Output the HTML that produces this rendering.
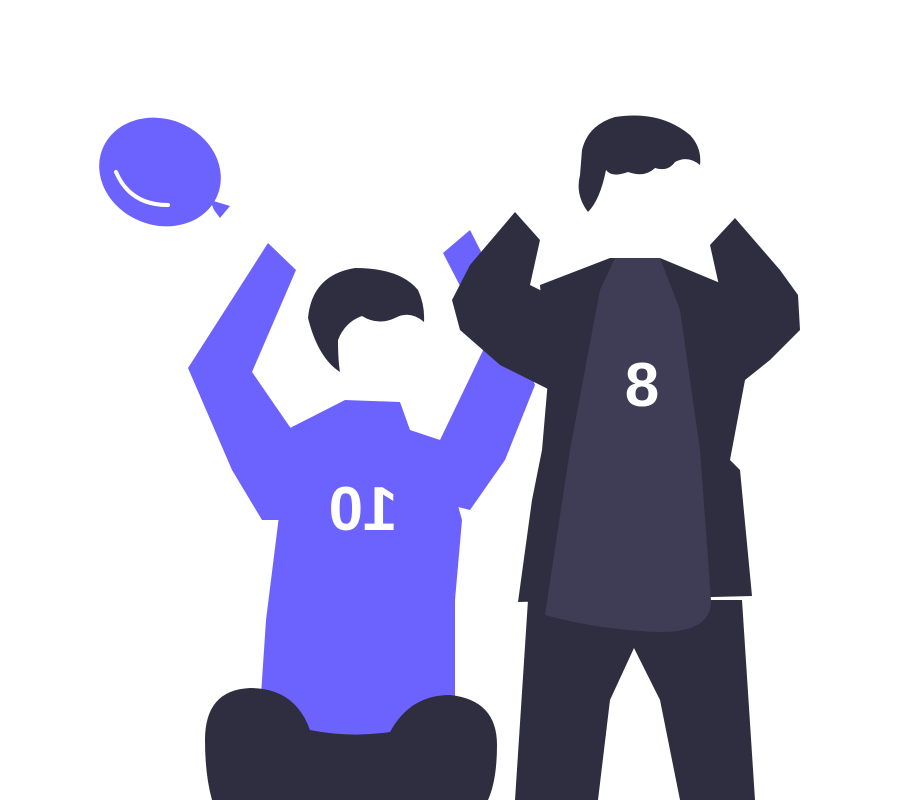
<!DOCTYPE html>
<html><head><meta charset="utf-8"><style>
html,body{margin:0;padding:0;background:#fff;width:900px;height:800px;overflow:hidden}
svg{display:block}
</style></head><body>
<svg width="900" height="800" viewBox="0 0 900 800">
  <g>
    <ellipse cx="160" cy="172" rx="62" ry="53" transform="rotate(22 160 172)" fill="#6c63ff"/>
    <polygon points="210,200 230,206 220,218 214,210" fill="#6c63ff"/>
    <path d="M116,172 Q130,205 168,205" stroke="#fff" stroke-width="4" fill="none" stroke-linecap="round"/>
  </g>
  <g>
    <polygon fill="#6c63ff" points="268,243 296,270 252,372 292,430 300,520 262,520 232,470 188,368"/>
    <polygon fill="#6c63ff" points="443,253 470,230 498,285 535,385 505,460 470,510 430,500 440,440 488,340"/>
    <path fill="#6c63ff" d="M290,428 L345,400 L400,402 L410,430 L440,440 L462,520 L455,600 L455,740 L258,740 L266,620 L276,540 Z"/>
    <text x="-363" y="530" transform="scale(-1,1)" text-anchor="middle" font-family="'Liberation Sans',sans-serif" font-weight="bold" font-size="62" fill="#fff">10</text>
    <path fill="#2f2e41" d="M308,318 Q312,275 355,268 Q400,268 418,290 Q425,305 424,322 Q410,310 395,318 Q378,326 362,316 Q345,322 338,340 Q338,360 340,372 Q318,358 308,318 Z"/>
    <path fill="#2f2e41" d="M205,740 Q205,690 250,688 Q295,688 310,730 Q350,738 390,732 Q410,695 450,695 Q497,700 497,745 Q497,780 488,800 L212,800 Q205,775 205,740 Z"/>
  </g>
  <g>
    <path fill="#2f2e41" d="M582,150 Q588,125 615,117 Q660,110 690,135 Q702,148 700,165 Q688,155 675,162 Q668,172 655,168 Q645,178 628,172 Q612,178 606,170 Q600,200 588,212 Q575,195 580,175 Z"/>
    <polygon fill="#2f2e41" points="515,212 540,240 530,285 560,300 560,395 500,365 460,330 452,300 470,265"/>
    <polygon fill="#2f2e41" points="735,218 710,245 720,290 700,300 720,400 770,360 800,330 798,295 780,270"/>
    <polygon fill="#2f2e41" points="540,285 610,258 660,258 725,285 745,380 730,460 740,470 752,596 518,602 532,500 542,450 548,380"/>
    <path fill="#2f2e41" d="M528,600 L742,600 L755,800 L680,800 L660,700 L634,648 L610,700 L598,800 L515,800 Z"/>
    <path fill="#3f3d56" d="M615,258 L660,258 L680,310 L700,450 L711,600 Q712,632 660,632 Q600,630 545,615 L570,450 L600,290 Z"/>
    <text x="642" y="406" text-anchor="middle" font-family="'Liberation Sans',sans-serif" font-weight="bold" font-size="62" fill="#fff">8</text>
  </g>
</svg>
</body></html>
